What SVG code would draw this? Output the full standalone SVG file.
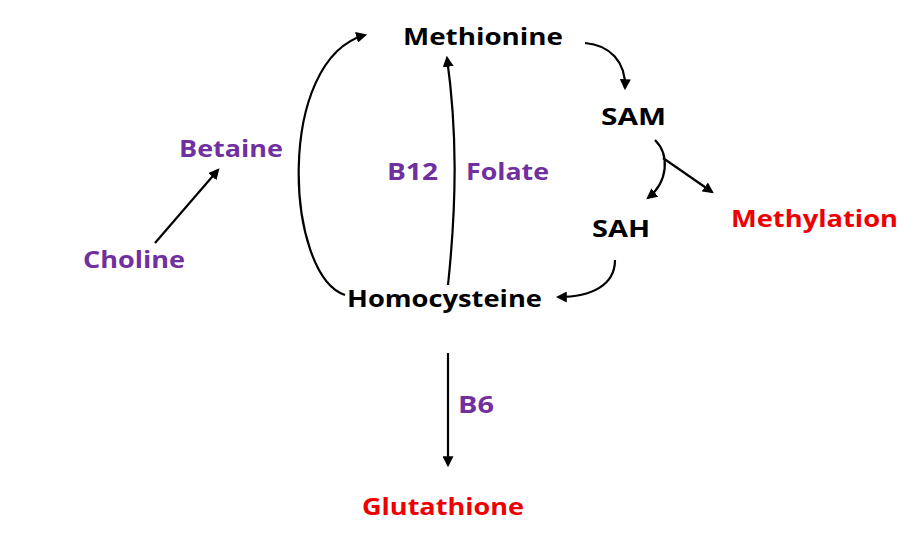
<svg xmlns="http://www.w3.org/2000/svg" width="921" height="537" viewBox="0 0 921 537">
<style>
text{font-family:"Open Sans","Liberation Sans",sans-serif;font-weight:bold;font-size:24px}
.k{fill:#000}.p{fill:#7030A0}.r{fill:#EE0000}
.c{fill:none;stroke:#000;stroke-width:2.2;marker-end:url(#a)}
</style>
<defs><marker id="a" viewBox="0 0 10 10" refX="8" refY="5" markerWidth="5" markerHeight="5" orient="auto"><path d="M0,0 L10,5 L0,10 Z" fill="#000"/></marker></defs>
<rect width="921" height="537" fill="#fff"/>
<g id="connectors">
<path class="c" d="M345,295 C285,275 275,60 365,35"/>
<path class="c" d="M448,285 C457,200 457,130 447,58"/>
<path class="c" d="M585,43 C610,45 626,62 625,88"/>
<path class="c" d="M655,140 C670,155 668,182 648,198"/>
<path class="c" d="M663,158 L712,192"/>
<path class="c" d="M615,260 C615,285 592,297 558,297"/>
<path class="c" d="M155,243 L218,170"/>
<path class="c" d="M448,353 L448,465"/>
</g>
<g id="methionine"><text class="k" x="403" y="45" textLength="160" lengthAdjust="spacingAndGlyphs">Methionine</text></g>
<g id="sam"><text class="k" x="601" y="125" textLength="65" lengthAdjust="spacingAndGlyphs">SAM</text></g>
<g id="betaine"><text class="p" x="179" y="157" textLength="104" lengthAdjust="spacingAndGlyphs">Betaine</text></g>
<g id="b12"><text class="p" x="387" y="180" textLength="51" lengthAdjust="spacingAndGlyphs">B12</text></g>
<g id="folate"><text class="p" x="466" y="180" textLength="83" lengthAdjust="spacingAndGlyphs">Folate</text></g>
<g id="sah"><text class="k" x="592" y="237" textLength="58" lengthAdjust="spacingAndGlyphs">SAH</text></g>
<g id="methylation"><text class="r" x="731" y="227" textLength="167" lengthAdjust="spacingAndGlyphs">Methylation</text></g>
<g id="choline"><text class="p" x="83" y="268" textLength="102" lengthAdjust="spacingAndGlyphs">Choline</text></g>
<g id="homocysteine"><text class="k" x="347" y="307" textLength="195" lengthAdjust="spacingAndGlyphs">Homocysteine</text></g>
<g id="b6"><text class="p" x="458" y="413" textLength="36" lengthAdjust="spacingAndGlyphs">B6</text></g>
<g id="glutathione"><text class="r" x="362" y="515" textLength="162" lengthAdjust="spacingAndGlyphs">Glutathione</text></g>
</svg>
